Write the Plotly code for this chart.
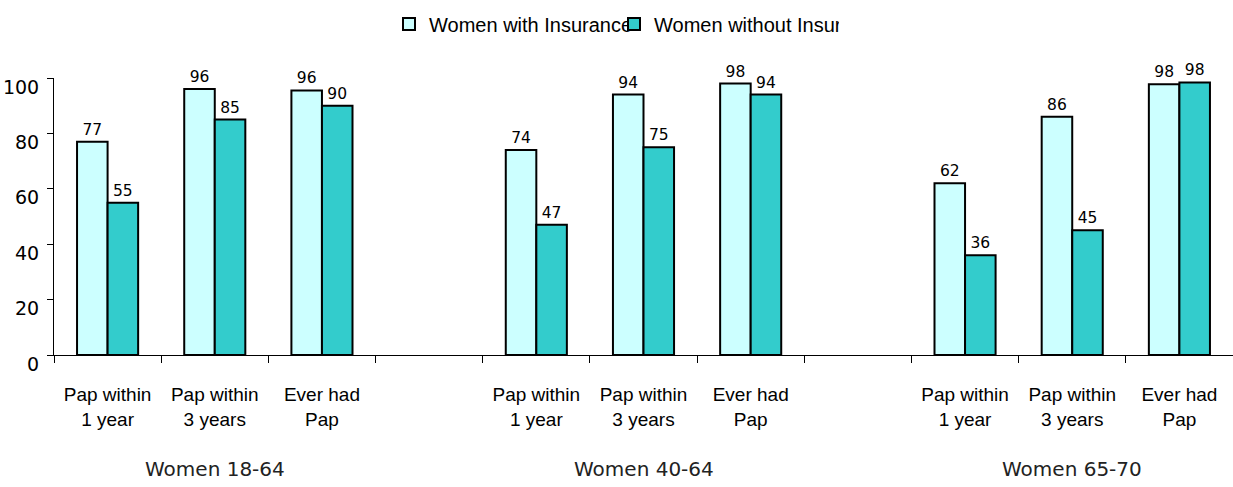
import plotly.graph_objects as go

tick_labels = ["Pap within<br>1 year", "Pap within<br>3 years", "Ever had<br>Pap", "",
               "Pap within<br>1 year", "Pap within<br>3 years", "Ever had<br>Pap", "",
               "Pap within<br>1 year", "Pap within<br>3 years", "Ever had<br>Pap"]
x_pos = list(range(len(tick_labels)))
with_ins = [77, 96, 95.5, None, 74, 94, 98, None, 62, 86, 97.7]
without_ins = [55, 85, 90, None, 47, 75, 94, None, 36, 45, 98.4]
groups = ["Women 18-64", "Women 40-64", "Women 65-70"]
group_centers = [1, 5, 9]

fig = go.Figure()
fig.add_trace(go.Bar(x=x_pos, y=with_ins, name="Women with Insurance",
                     marker=dict(color="#CCFFFF", line=dict(color="black", width=2)),
                     texttemplate="%{y:.0f}", textposition="outside",
                     textfont=dict(family="DejaVu Sans", size=15.5, color="black"),
                     cliponaxis=False))
fig.add_trace(go.Bar(x=x_pos, y=without_ins, name="Women without Insurance",
                     marker=dict(color="#33CCCC", line=dict(color="black", width=2)),
                     texttemplate="%{y:.0f}", textposition="outside",
                     textfont=dict(family="DejaVu Sans", size=15.5, color="black"),
                     cliponaxis=False))

for g, c in zip(groups, group_centers):
    fig.add_annotation(x=c, xref="x", y=-0.41, yref="paper", text=g, showarrow=False,
                       font=dict(family="DejaVu Sans", size=20, color="#222"),
                       yanchor="middle")

fig.update_layout(
    width=1233, height=487,
    margin=dict(l=54, r=0, t=78, b=132, autoexpand=False),
    paper_bgcolor="white", plot_bgcolor="white",
    barmode="group", bargap=0.43, bargroupgap=0,
    showlegend=True,
    legend=dict(orientation="h", x=0.475, xanchor="center", y=1.265, yanchor="top",
                font=dict(family="Liberation Sans", size=20, color="black"),
                itemwidth=30, entrywidth=180, tracegroupgap=0),
    xaxis=dict(range=[-0.5, 10.5], tickmode="array", tickvals=x_pos, ticktext=tick_labels,
               ticks="", showline=True, linecolor="black", linewidth=1,
               tickfont=dict(family="Liberation Sans", size=19, color="black"),
               ticklabelstandoff=22, showgrid=False, zeroline=False,
               minor=dict(tick0=-0.5, dtick=1, ticks="outside", ticklen=7,
                          tickcolor="black", showgrid=False)),
    yaxis=dict(range=[0, 100], dtick=20, ticks="outside", ticklen=6, tickcolor="black",
               showline=True, linecolor="black", linewidth=1, showgrid=False,
               zeroline=False, ticklabelshift=9, ticklabelstandoff=4,
               tickfont=dict(family="DejaVu Sans", size=19, color="black")),
)

fig.write_html("out.html")
